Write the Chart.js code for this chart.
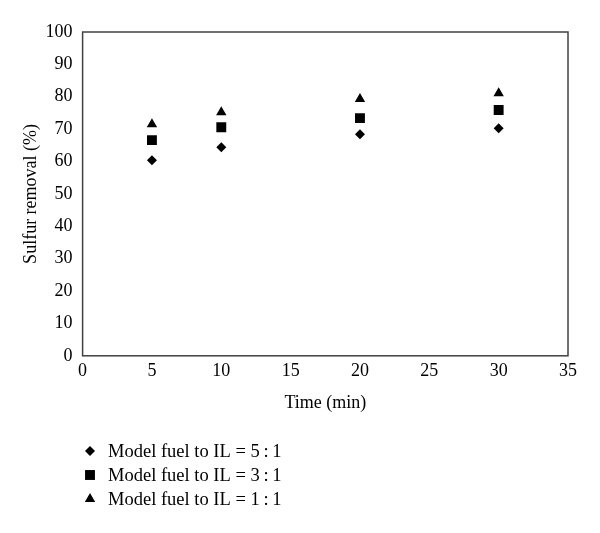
<!DOCTYPE html>
<html>
<head>
<meta charset="utf-8">
<script src="https://cdn.jsdelivr.net/npm/chart.js@4/dist/chart.umd.min.js"></script>
<style>
  html, body { margin: 0; padding: 0; background: #fff; }
  #wrap { width: 600px; height: 533px; position: relative; }
</style>
</head>
<body>
<div id="wrap"><canvas id="sulfurChart"></canvas></div>
<script>
// Sulfur removal vs. time for three model fuel : IL ratios
const times = [5, 10, 20, 30];
const ratio51 = [60.4, 64.4, 68.4, 70.3];
const ratio31 = [66.6, 70.6, 73.4, 75.9];
const ratio11 = [71.5, 75.2, 79.3, 81.1];
const seriesLabels = [
  "Model fuel to IL = 5\u2009:\u20091",
  "Model fuel to IL = 3\u2009:\u20091",
  "Model fuel to IL = 1\u2009:\u20091",
];

const FONT = "'Liberation Serif', 'DejaVu Serif', serif";
const INK = "#000";
const AXIS = "#404040";

function toPoints(values) {
  return times.map((t, i) => ({ x: t, y: values[i] }));
}

// Draws the full box around the plot area
const frame = {
  id: "frame",
  afterDatasetsDraw(chart) {
    const { ctx, chartArea: a } = chart;
    ctx.save();
    ctx.strokeStyle = AXIS;
    ctx.lineWidth = 1.5;
    ctx.strokeRect(a.left, a.top, a.right - a.left, a.bottom - a.top);
    ctx.restore();
  },
};

// Vertical legend below the axis title
const stackedLegend = {
  id: "stackedLegend",
  afterDraw(chart) {
    const { ctx } = chart;
    ctx.save();
    ctx.font = "18.5px " + FONT;
    ctx.textBaseline = "middle";
    chart.data.datasets.forEach((ds, i) => {
      const y = 451 + i * 24;
      ctx.fillStyle = INK;
      ctx.strokeStyle = INK;
      Chart.helpers.drawPoint(
        ctx,
        { pointStyle: ds.pointStyle, radius: ds.pointRadius, rotation: 0, borderWidth: 0 },
        90,
        y,
      );
      ctx.fillText(ds.label, 108, y + 1);
    });
    ctx.restore();
  },
};

const baseSeries = {
  showLine: false,
  backgroundColor: INK,
  borderColor: INK,
  borderWidth: 0,
};

new Chart(document.getElementById("sulfurChart"), {
  type: "scatter",
  data: {
    datasets: [
      { ...baseSeries, label: seriesLabels[0], data: toPoints(ratio51), pointStyle: "rectRot", pointRadius: 5 },
      { ...baseSeries, label: seriesLabels[1], data: toPoints(ratio31), pointStyle: "rect", pointRadius: 7 },
      { ...baseSeries, label: seriesLabels[2], data: toPoints(ratio11), pointStyle: "triangle", pointRadius: 6 },
    ],
  },
  options: {
    responsive: true,
    maintainAspectRatio: false,
    animation: false,
    layout: { padding: { top: 32, right: 32, bottom: 115, left: 20 } },
    plugins: {
      legend: { display: false },
      tooltip: { enabled: false },
    },
    scales: {
      x: {
        type: "linear",
        min: 0,
        max: 35,
        ticks: { stepSize: 5, color: INK, font: { family: FONT, size: 18 }, padding: 5 },
        grid: { display: false, drawTicks: false },
        border: { display: false },
        title: { display: true, text: "Time (min)", color: INK, font: { family: FONT, size: 18 }, padding: { top: 5 } },
      },
      y: {
        min: 0,
        max: 100,
        ticks: { stepSize: 10, color: INK, font: { family: FONT, size: 18 }, padding: 10 },
        grid: { display: false, drawTicks: false },
        border: { display: false },
        title: { display: true, text: "Sulfur removal (%)", color: INK, font: { family: FONT, size: 18 }, padding: { top: 0, bottom: -6 } },
      },
    },
  },
  plugins: [frame, stackedLegend],
});
</script>
</body>
</html>
